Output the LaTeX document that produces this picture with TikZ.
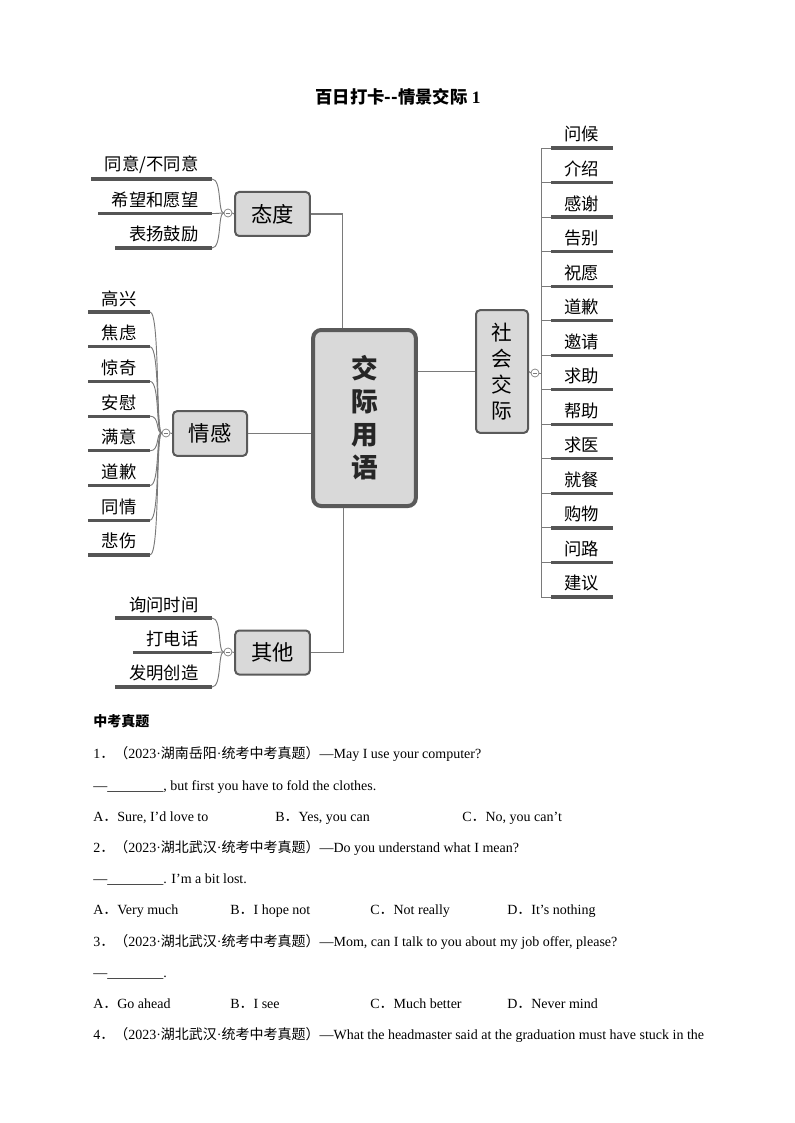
\documentclass[tikz,border=0pt]{standalone}
\usepackage{fontspec}
\setmainfont{Liberation Serif}
\newfontfamily\cjk{Noto Sans CJK SC}
\usetikzlibrary{positioning,calc}

\definecolor{boxfill}{HTML}{D9D9D9}
\definecolor{boxline}{HTML}{5A5A5A}
\definecolor{linkgray}{HTML}{7A7A7A}
\definecolor{ulinegray}{HTML}{555555}

\tikzset{
  topic/.style={draw=boxline, fill=boxfill, line width=1.5pt, rounded corners=3pt,
    inner sep=2pt, font=\cjk\fontsize{16pt}{19.5pt}\selectfont, align=center},
  hub/.style={draw=boxline, fill=boxfill, line width=3pt, rounded corners=6pt,
    inner sep=2pt, text=black!85, font=\cjk\bfseries\fontsize{20pt}{24.75pt}\selectfont, align=center},
  leaf/.style={inner xsep=10pt, inner ysep=4pt, font=\cjk\fontsize{13pt}{15pt}\selectfont},
  uline/.style={draw=ulinegray, line width=2.4pt},
  link/.style={draw=linkgray, line width=0.8pt},
  twig/.style={draw=linkgray, line width=0.7pt},
  fold/.style={circle, draw=linkgray, fill=white, line width=0.5pt, inner sep=0pt, minimum size=6pt,
    path picture={\draw[linkgray, line width=0.4pt]
      ([xshift=-1.6pt]path picture bounding box.center) -- ([xshift=1.6pt]path picture bounding box.center);}},
  qline/.style={anchor=west, inner sep=0pt, text height=8pt, text depth=2pt,
    font=\fontsize{10.5pt}{12pt}\selectfont}
}

\begin{document}
\begin{tikzpicture}[x=0.75pt, y=-0.75pt]
  % page
  \fill[white] (0,0) rectangle (794,1123);
  \useasboundingbox (0,0) rectangle (794,1123);

  % title
  \node[font=\fontsize{13pt}{15pt}\selectfont\bfseries] (title) at (398,97)
    {{\cjk 百日打卡--情景交际} 1};

  % --- Main topics ---
  \node[hub, minimum width=77pt, minimum height=132pt] (core) at (364.5,418) {交\\际\\用\\语};
  \node[topic, minimum width=56pt, minimum height=33pt] (att) at (272.5,214) {态度};
  \node[topic, minimum width=55.5pt, minimum height=33.5pt] (emo) at (210,433.5) {情感};
  \node[topic, minimum width=39pt, minimum height=92pt, font=\cjk\fontsize{15.5pt}{19.5pt}\selectfont]
    (soc) at (502,371.5) {社\\会\\交\\际};
  \node[topic, minimum width=56pt, minimum height=33pt] (oth) at (272.5,652.5) {其他};

  % links from the hub
  \draw[link] (att.east) -| ([xshift=-16.5pt]core.north);
  \draw[link] (emo.east) -- (emo.east -| core.west);
  \draw[link] (soc.west) -- (soc.west -| core.east);
  \draw[link] (oth.east) -| ([xshift=-16pt]core.south);

  % fold markers
  \node[fold] (attfold) at (228,213) {};
  \node[fold] (emofold) at (166,433) {};
  \node[fold] (socfold) at (535,373) {};
  \node[fold] (othfold) at (228,652) {};
  \draw[twig] (attfold.east) -- (att.west);
  \draw[twig] (emofold.east) -- (emo.west);
  \draw[twig] (socfold.west) -- (soc.east);
  \draw[twig] (othfold.east) -- (oth.west);

  % --- 态度 ---
  \foreach \t [count=\i] in {同意/不同意,希望和愿望,表扬鼓励}{
    \pgfmathsetmacro{\yy}{179+(\i-1)*34.5}
    \node[leaf, anchor=south east] (att\i) at (212,\yy) {\t};
    \draw[uline] (att\i.south west) -- (att\i.south east);
    \draw[twig] (att\i.south east) .. controls +(10,0) and +(-6,0) .. (attfold.west);
  }

  % --- 情感 ---
  \foreach \t [count=\i] in {高兴,焦虑,惊奇,安慰,满意,道歉,同情,悲伤}{
    \pgfmathsetmacro{\yy}{312+(\i-1)*34.7}
    \node[leaf, anchor=south east] (emo\i) at (150,\yy) {\t};
    \draw[uline] (emo\i.south west) -- (emo\i.south east);
    \draw[twig] (emo\i.south east) .. controls +(10,0) and +(-6,0) .. (emofold.west);
  }

  % --- 社会交际 ---
  \coordinate (spine) at (541,373);
  \draw[twig] (socfold.east) -- (spine);
  \foreach \t [count=\i] in {问候,介绍,感谢,告别,祝愿,道歉,邀请,求助,帮助,求医,就餐,购物,问路,建议}{
    \pgfmathsetmacro{\yy}{148+(\i-1)*34.54}
    \node[leaf, anchor=south west] (soc\i) at (551,\yy) {\t};
    \draw[uline] (soc\i.south west) -- (soc\i.south east);
    \draw[twig] (spine) |- (soc\i.south west);
  }

  % --- 其他 ---
  \foreach \t [count=\i] in {询问时间,打电话,发明创造}{
    \pgfmathsetmacro{\yy}{618+(\i-1)*34.5}
    \node[leaf, anchor=south east] (oth\i) at (212,\yy) {\t};
    \draw[uline] (oth\i.south west) -- (oth\i.south east);
    \draw[twig] (oth\i.south east) .. controls +(10,0) and +(-6,0) .. (othfold.west);
  }

  % --- Questions ---
  \node[qline] (head) at (93,722) {\cjk\bfseries 中考真题};

  \node[qline] (q1) at (93,754)
    {1{\cjk．（}2023·{\cjk 湖南岳阳}·{\cjk 统考中考真题）}—May I use your computer?};
  \node[qline] (q1b) at (93,786) {—\_\_\_\_\_\_\_\_, but first you have to fold the clothes.};
  \node[qline] (q1A) at (93,817) {A{\cjk．}Sure, I’d love to};
  \node[qline] (q1B) at (275,817) {B{\cjk．}Yes, you can};
  \node[qline] (q1C) at (462,817) {C{\cjk．}No, you can’t};

  \node[qline] (q2) at (93,848)
    {2{\cjk．（}2023·{\cjk 湖北武汉}·{\cjk 统考中考真题）}—Do you understand what I mean?};
  \node[qline] (q2b) at (93,879) {—\_\_\_\_\_\_\_\_. I’m a bit lost.};
  \node[qline] (q2A) at (93,910) {A{\cjk．}Very much};
  \node[qline] (q2B) at (230,910) {B{\cjk．}I hope not};
  \node[qline] (q2C) at (370,910) {C{\cjk．}Not really};
  \node[qline] (q2D) at (507,910) {D{\cjk．}It’s nothing};

  \node[qline] (q3) at (93,942)
    {3{\cjk．（}2023·{\cjk 湖北武汉}·{\cjk 统考中考真题）}—Mom, can I talk to you about my job offer, please?};
  \node[qline] (q3b) at (93,973) {—\_\_\_\_\_\_\_\_.};
  \node[qline] (q3A) at (93,1004) {A{\cjk．}Go ahead};
  \node[qline] (q3B) at (230,1004) {B{\cjk．}I see};
  \node[qline] (q3C) at (370,1004) {C{\cjk．}Much better};
  \node[qline] (q3D) at (507,1004) {D{\cjk．}Never mind};

  \node[qline] (q4) at (93,1035)
    {4{\cjk．（}2023·{\cjk 湖北武汉}·{\cjk 统考中考真题）}—What the headmaster said at the graduation must have stuck in the};
\end{tikzpicture}
\end{document}
